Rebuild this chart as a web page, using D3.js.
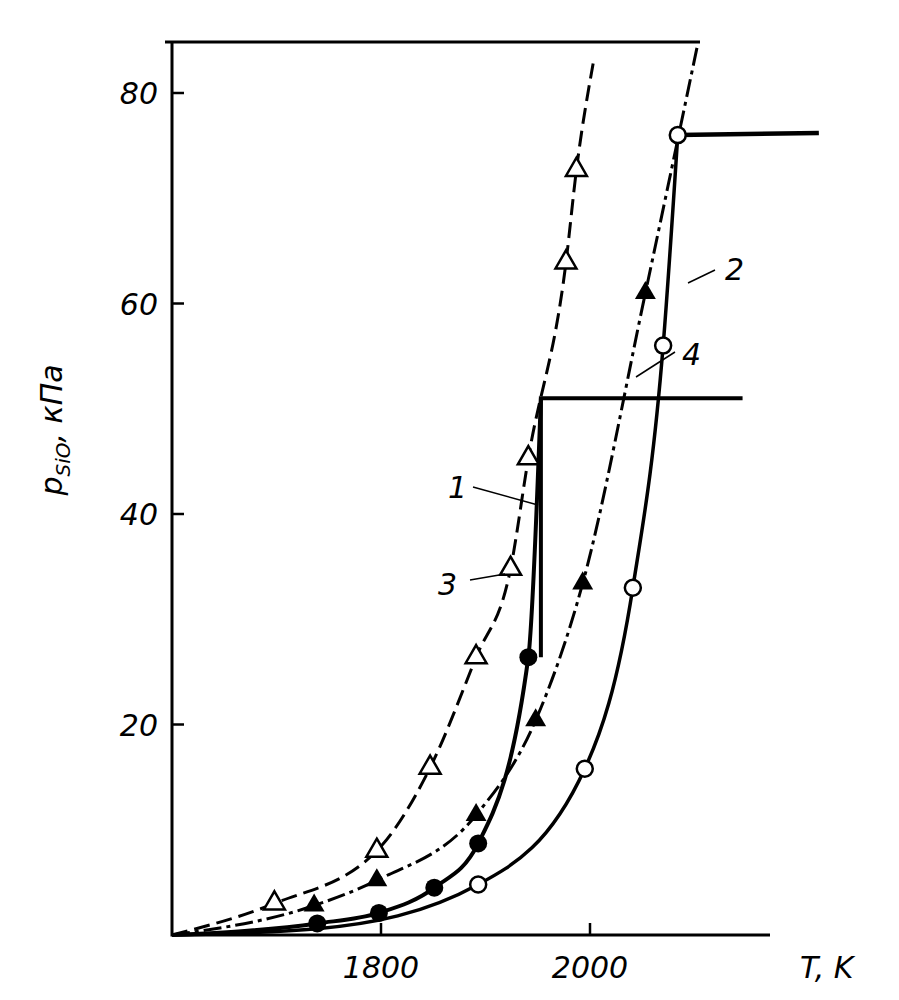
<!DOCTYPE html>
<html><head><meta charset="utf-8">
<script src="https://cdn.jsdelivr.net/npm/d3@7"></script>
<style>body{margin:0;background:#fff}text{font-family:"DejaVu Sans",sans-serif;font-style:italic}</style>
</head><body><svg id="c" width="899" height="1000"></svg>
<script>
// curve data, T in K, p in kPa
const curve3 = [[1600,0],[1698,3.0],[1796,8.0],[1847,15.9],[1891,26.4],[1924,34.8],[1941,45.3],[1977,63.9],[1987,72.7],[2003,82.8]];
const curve1 = [[1600,0],[1739,1.1],[1798,2.1],[1851,4.5],[1893,8.7],[1941,26.4],[1953,51]];
const step1 = [[1953,26.4],[1953,51],[2146,51]];
const curve4 = [[1600,0],[1736,2.8],[1796,5.2],[1891,11.4],[1948,20.4],[1993,33.4],[2053,61],[2103,84.6]];
const curve2 = [[1600,0],[1739,0.6],[1893,4.8],[1995,15.8],[2041,33],[2070,56],[2084,76]];
const step2 = [[2084,76],[2219,76.2]];
const pts3 = curve3.slice(1, 9), pts1 = curve1.slice(1, 6), pts4 = curve4.slice(1, 7), pts2 = curve2.slice(2);
const yTicks = [20, 40, 60, 80], xTicks = [1800, 2000];

const svg = d3.select('#c');
const x = d3.scaleLinear().domain([1600, 2000]).range([172, 590]);
const y = d3.scaleLinear().domain([0, 80]).range([935, 93]);

// frame
svg.append('path').attr('d', `M165,42H700M172,42V935H770`).attr('fill','none').attr('stroke','#000').attr('stroke-width',3);
svg.selectAll('.yt').data(yTicks).join('line').attr('x1',172).attr('x2',184).attr('y1',d=>y(d)).attr('y2',d=>y(d)).attr('stroke','#000').attr('stroke-width',2.5);
svg.selectAll('.ytl').data(yTicks).join('text').attr('x',158).attr('y',d=>y(d)+11).attr('text-anchor','end').attr('font-size',30).text(d=>d);
svg.selectAll('.xt').data(xTicks).join('line').attr('x1',d=>x(d)).attr('x2',d=>x(d)).attr('y1',935).attr('y2',923).attr('stroke','#000').attr('stroke-width',2.5);
svg.selectAll('.xtl').data(xTicks).join('text').attr('x',d=>x(d)).attr('y',978).attr('text-anchor','middle').attr('font-size',30).text(d=>d);
svg.append('text').attr('x',800).attr('y',978).attr('font-size',30).text('T, K');
svg.append('text').attr('transform','translate(62,430) rotate(-90)').attr('text-anchor','middle').attr('font-size',30)
  .html('p<tspan font-size="20" dy="8">SiO</tspan><tspan dy="-8">, кПа</tspan>');

const line = d3.line().x(d=>x(d[0])).y(d=>y(d[1])).curve(d3.curveMonotoneX);
const straight = d3.line().x(d=>x(d[0])).y(d=>y(d[1]));
const draw = (data, gen, w, dash) => svg.append('path').attr('d', gen(data)).attr('fill','none').attr('stroke','#000').attr('stroke-width',w).attr('stroke-dasharray',dash||null);
draw(curve3, line, 3, '16,7');
draw(curve4, line, 3, '18,5,4,5');
draw(curve2, line, 3.5);
draw(curve1, line, 4);
draw(step1, straight, 4);
draw(step2, straight, 4.5);

const tri = d3.symbol().type(d3.symbolTriangle).size(190);
svg.selectAll('.p3').data(pts3).join('path').attr('d',tri).attr('transform',d=>`translate(${x(d[0])},${y(d[1])})`).attr('fill','#fff').attr('stroke','#000').attr('stroke-width',2.5);
svg.selectAll('.p4').data(pts4).join('path').attr('d',tri).attr('transform',d=>`translate(${x(d[0])},${y(d[1])})`).attr('fill','#000');
svg.selectAll('.p1').data(pts1).join('circle').attr('cx',d=>x(d[0])).attr('cy',d=>y(d[1])).attr('r',9).attr('fill','#000');
svg.selectAll('.p2').data(pts2).join('circle').attr('cx',d=>x(d[0])).attr('cy',d=>y(d[1])).attr('r',8).attr('fill','#fff').attr('stroke','#000').attr('stroke-width',2.5);

// curve labels with leaders
const labels = [['1',448,498,473,487,538,505],['3',438,595,470,580,505,574],['2',725,280,715,270,688,283],['4',682,365,675,352,636,377]];
labels.forEach(([t,tx,ty,x1,y1,x2,y2])=>{
  svg.append('text').attr('x',tx).attr('y',ty).attr('font-size',30).text(t);
  svg.append('line').attr('x1',x1).attr('y1',y1).attr('x2',x2).attr('y2',y2).attr('stroke','#000').attr('stroke-width',1.5);
});
</script></body></html>
